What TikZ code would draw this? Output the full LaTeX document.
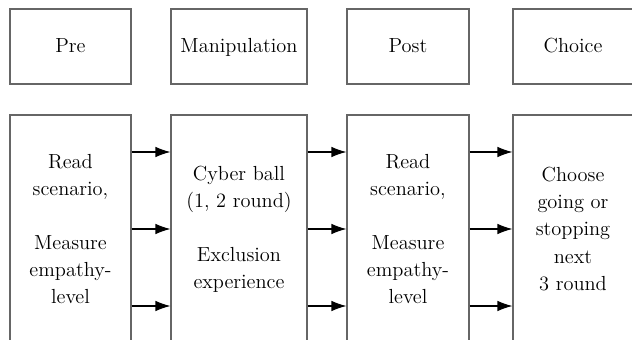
\documentclass[tikz,border=0pt]{standalone}
\usetikzlibrary{arrows.meta}

\begin{document}
\begin{tikzpicture}[
  font=\fontsize{11.6}{15.4}\selectfont,
  stagebox/.style={draw=black!60,line width=0.6pt,inner sep=0pt,minimum height=1.5cm,text height=9.4pt,text depth=2pt,align=center},
  taskbox/.style={draw=black!60,line width=0.6pt,inner sep=0pt,minimum height=4.56cm,align=center},
  flow/.style={-{Latex[length=3mm,width=2.1mm]},line width=0.6pt}]
\clip (0,0) rectangle (12.64,6.78);
% stage titles
\node[stagebox,minimum width=2.42cm] (pre) at (1.41,5.85) {Pre};
\node[stagebox,minimum width=2.72cm] (manip) at (4.78,5.85) {Manipulation};
\node[stagebox,minimum width=2.44cm] (post) at (8.16,5.85) {Post};
\node[stagebox,minimum width=2.4cm] (choice) at (11.46,5.85) {Choice};
% tasks
\node[taskbox,minimum width=2.42cm] (pretask) at (1.41,2.2) {Read\\scenario,\\[15.4pt]Measure\\empathy-\\level};
\node[taskbox,minimum width=2.72cm] (maniptask) at (4.78,2.2) {Cyber ball\\(1, 2 round)\\[15.4pt]Exclusion\\experience};
\node[taskbox,minimum width=2.44cm] (posttask) at (8.16,2.2) {Read\\scenario,\\[15.4pt]Measure\\empathy-\\level};
\node[taskbox,minimum width=2.4cm] (choicetask) at (11.46,2.2) {Choose\\going or\\stopping\\next\\3 round};
% arrows
\foreach \a/\b in {pretask/maniptask,maniptask/posttask,posttask/choicetask}
  \foreach \dy in {-1.54,0,1.54}
    \draw[flow] ([yshift=\dy cm]\a.east) -- ([yshift=\dy cm]\b.west);
\end{tikzpicture}
\end{document}
